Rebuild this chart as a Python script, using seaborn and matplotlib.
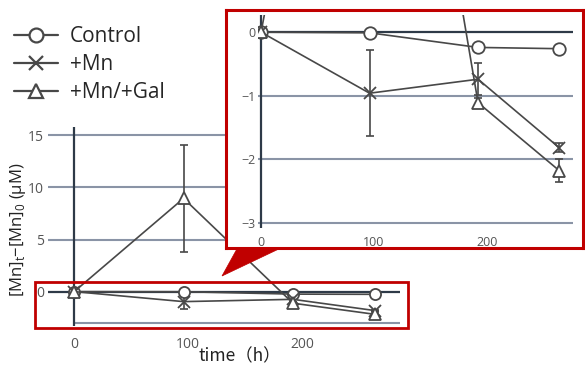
import numpy as np
import pandas as pd
import seaborn as sns
import matplotlib.pyplot as plt
from matplotlib.patches import Rectangle, Polygon
from matplotlib.lines import Line2D

# data
times = [0, 96, 192, 264]
series = ["Control", "+Mn", "+Mn/+Gal"]
control = [0, -0.01, -0.24, -0.26]
control_err = [0, 0, 0, 0]
mn = [0, -0.96, -0.74, -1.82]
mn_err = [0, 0.68, 0.25, 0.07]
mngal = [0, 8.95, -1.11, -2.18]
mngal_err = [0, 5.1, 0.08, 0.18]
markers = {"Control": "o", "+Mn": "x", "+Mn/+Gal": "^"}

LINE = "#484848"
GRID = "#8a94a6"
ZERO = "#2e3a48"
RED = "#c00000"
TICK = "#555555"

df = pd.DataFrame({
    "time": times * 3,
    "value": control + mn + mngal,
    "err": control_err + mn_err + mngal_err,
    "series": np.repeat(series, len(times)),
})

sns.set_style("white")
plt.rcParams["font.family"] = ["Open Sans", "DejaVu Sans"]

W, H = 585, 368
fig = plt.figure(figsize=(W / 100, H / 100), dpi=100)


def px_rect(x0, y0, x1, y1):
    return [x0 / W, 1 - y1 / H, (x1 - x0) / W, (y1 - y0) / H]


def draw_series(ax, ms):
    for name in series:
        sub = df[df["series"] == name]
        sns.lineplot(data=sub, x="time", y="value", ax=ax, color=LINE, lw=1.2,
                     marker=markers[name], markersize=ms, markerfacecolor="white",
                     markeredgecolor=LINE, markeredgewidth=1.3, legend=False,
                     errorbar=None, zorder=3)
        ax.errorbar(sub["time"], sub["value"], yerr=sub["err"], fmt="none",
                    ecolor=LINE, elinewidth=1.2, capsize=3, capthick=1.2, zorder=2)


# main axes
ax = fig.add_axes(px_rect(48, 127, 400, 326))
draw_series(ax, 8)
ax.set_xlim(-23, 286)
ax.set_ylim(-3.3, 15.8)
ax.set_yticks([0, 5, 10, 15])
ax.set_xticks([0, 100, 200])
for v in [5, 10, 15]:
    ax.axhline(v, color=GRID, lw=1.5, zorder=0)
ax.axhline(0, color=ZERO, lw=1.6, zorder=1)
ax.hlines(-3, 0, 286, color=GRID, lw=1.5, zorder=0)
ax.axvline(0, color=ZERO, lw=1.6, zorder=1)
for s in ax.spines.values():
    s.set_visible(False)
ax.tick_params(axis="y", length=0, labelsize=10, labelcolor=TICK, pad=3)
ax.tick_params(axis="x", length=4, color=GRID, labelsize=10, labelcolor=TICK, pad=4)
ax.set_xlabel("")
ax.set_ylabel("")
fig.text(18 / W, 1 - 230 / H, "[Mn]$_\\mathregular{t}$−[Mn]$_\\mathregular{0}$ (μM)",
         rotation=90, ha="center", va="center", fontsize=12, color="#222222")
fig.text(240 / W, 1 - 356 / H, "time（h）", ha="center", va="center", fontsize=12.5,
         color="#222222", family=["Noto Sans CJK JP", "DejaVu Sans"])

# red highlight box on main plot
fig.add_artist(Rectangle((35 / W, 1 - 328 / H), (408 - 35) / W, (328 - 282) / H,
                         transform=fig.transFigure, fill=False, ec=RED, lw=2, zorder=4))
# callout triangle
fig.add_artist(Polygon([(238 / W, 1 - 247 / H), (283 / W, 1 - 247 / H), (222 / W, 1 - 276 / H)],
                       closed=True, transform=fig.transFigure, fc=RED, ec=RED, lw=0.5, zorder=4))

# inset background box
bg = fig.add_axes(px_rect(226, 10, 583, 248))
bg.set_zorder(5)
bg.set_facecolor("white")
bg.set_xticks([])
bg.set_yticks([])
for s in bg.spines.values():
    s.set_color(RED)
    s.set_linewidth(2.2)

# inset axes
ins = fig.add_axes(px_rect(258, 15, 573, 228))
ins.set_zorder(6)
ins.patch.set_alpha(0)
draw_series(ins, 9)
ins.set_xlim(-2.7, 276)
ins.set_ylim(-3.08, 0.27)
ins.set_yticks([0, -1, -2, -3])
ins.set_yticklabels(["0", "−1", "−2", "−3"])
ins.set_xticks([0, 100, 200])
for v in [-1, -2, -3]:
    ins.axhline(v, color=GRID, lw=1.5, zorder=0)
ins.axhline(0, color=ZERO, lw=1.6, zorder=1)
ins.axvline(0, color=ZERO, lw=1.6, zorder=1)
for s in ins.spines.values():
    s.set_visible(False)
ins.tick_params(axis="y", length=0, labelsize=9, labelcolor=TICK, pad=2)
ins.tick_params(axis="x", length=4, color=GRID, labelsize=9, labelcolor=TICK, pad=2)
ins.set_xlabel("")
ins.set_ylabel("")

# legend
handles = [Line2D([], [], color=LINE, lw=1.6, marker=markers[n], markersize=10,
                  markerfacecolor="white", markeredgecolor=LINE, markeredgewidth=1.6)
           for n in series]
fig.legend(handles, series, loc="upper left", bbox_to_anchor=(6 / W, 1 - 18 / H),
           frameon=False, fontsize=15, handlelength=2.1, handletextpad=0.55,
           labelspacing=0.33, borderaxespad=0)

fig.savefig("out.png", dpi=100)
